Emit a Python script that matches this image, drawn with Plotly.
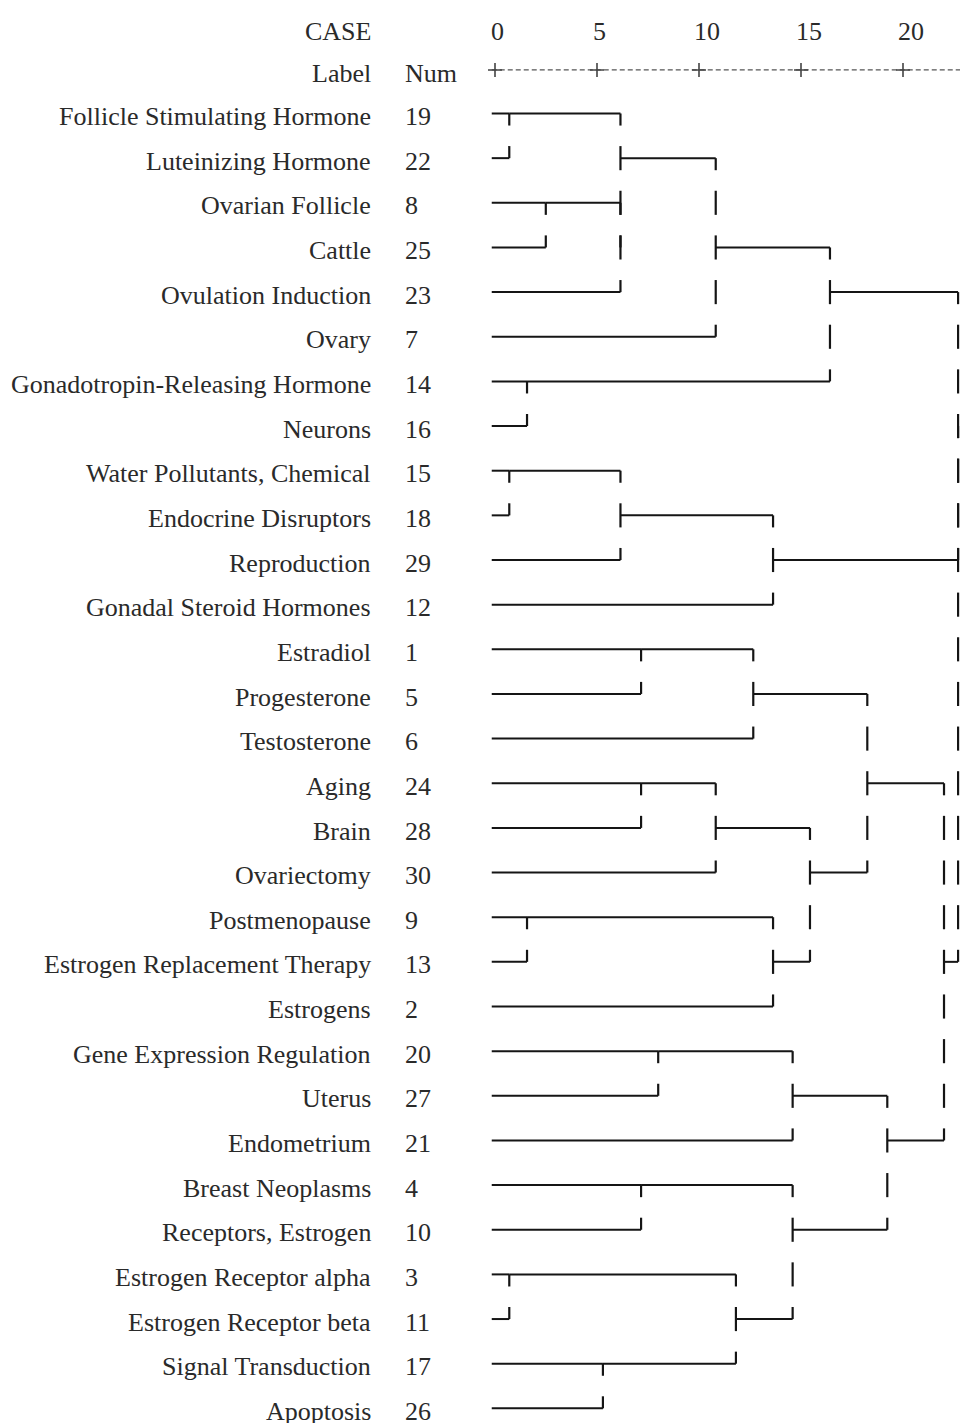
import plotly.graph_objects as go

# ---------------- data ----------------
labels = [
    "Follicle Stimulating Hormone", "Luteinizing Hormone", "Ovarian Follicle", "Cattle",
    "Ovulation Induction", "Ovary", "Gonadotropin-Releasing Hormone", "Neurons",
    "Water Pollutants, Chemical", "Endocrine Disruptors", "Reproduction",
    "Gonadal Steroid Hormones", "Estradiol", "Progesterone", "Testosterone", "Aging",
    "Brain", "Ovariectomy", "Postmenopause", "Estrogen Replacement Therapy", "Estrogens",
    "Gene Expression Regulation", "Uterus", "Endometrium", "Breast Neoplasms",
    "Receptors, Estrogen", "Estrogen Receptor alpha", "Estrogen Receptor beta",
    "Signal Transduction", "Apoptosis",
]
case_nums = [19, 22, 8, 25, 23, 7, 14, 16, 15, 18, 29, 12, 1, 5, 6, 24, 28, 30, 9, 13,
             2, 20, 27, 21, 4, 10, 3, 11, 17, 26]

# agglomeration schedule: (cluster 1, cluster 2, rescaled distance)
stage_a = [19, 15, 3, 14, 9, 8, 17, 8, 8, 15, 1, 24, 4, 20, 7, 24, 3, 1, 12, 2, 20, 3, 2, 7, 1, 3, 1, 7, 1]
stage_b = [22, 18, 11, 16, 13, 25, 26, 23, 19, 29, 5, 28, 10, 27, 8, 30, 17, 6, 15, 9, 21, 4, 24, 14, 2, 20, 3, 12, 7]
stage_dist = [0.70, 0.70, 0.70, 1.57, 1.57, 2.49, 5.29, 6.15, 6.15, 6.15, 7.16, 7.16, 7.16, 8.00,
              10.82, 10.82, 11.81, 12.66, 13.63, 13.63, 14.59, 14.59, 15.44, 16.42, 18.25,
              19.23, 22.01, 22.70, 22.70]

axis_ticks = [0, 5, 10, 15, 20]

# ---------------- geometry from data ----------------
LEAF_START = -0.16
TICK = 0.27

state = {c: (i, LEAF_START) for i, c in enumerate(case_nums)}
hx, hy, vx, vy = [], [], [], []
for a, b, h in zip(stage_a, stage_b, stage_dist):
    ra, ha = state[a]
    rb, hb = state[b]
    for r, h0 in ((ra, ha), (rb, hb)):
        hx += [h0, h, None]
        hy += [r, r, None]
    top, bot = min(ra, rb), max(ra, rb)
    for k in range(top, bot + 1):
        vx += [h, h, None]
        vy += [max(top, k - TICK), min(bot, k + TICK), None]
    new_id = min(a, b)
    del state[max(a, b)]
    state[new_id] = ((top + bot) // 2, h)

LINE = "#151515"
TEXT = "#2a2a2a"
FONT = "Liberation Serif, Times New Roman, serif"

fig = go.Figure()
fig.add_trace(go.Scatter(x=hx, y=hy, mode="lines", line=dict(color=LINE, width=2),
                         hoverinfo="skip", showlegend=False))
fig.add_trace(go.Scatter(x=vx, y=vy, mode="lines", line=dict(color=LINE, width=2.2),
                         hoverinfo="skip", showlegend=False))

# axis ruler "+----+----"
AX_ROW = -0.975
fig.add_trace(go.Scatter(x=[LEAF_START, 23.5], y=[AX_ROW, AX_ROW], mode="lines",
                         line=dict(color="#555555", width=1.2, dash="5px,3px"),
                         hoverinfo="skip", showlegend=False))
fig.add_trace(go.Scatter(x=axis_ticks, y=[AX_ROW] * len(axis_ticks), mode="markers",
                         marker=dict(symbol="cross-thin", size=10,
                                     line=dict(color="#444444", width=1.6)),
                         hoverinfo="skip", showlegend=False))

LABEL_X = -5.98
NUM_X = -4.51
TXT_DY = 0.07
ann = []
for i, (lab, num) in enumerate(zip(labels, case_nums)):
    ann.append(dict(x=LABEL_X, y=i + TXT_DY, text=lab, xanchor="right", yanchor="middle",
                    showarrow=False, font=dict(family=FONT, size=26, color=TEXT)))
    ann.append(dict(x=NUM_X, y=i + TXT_DY, text=str(num), xanchor="left", yanchor="middle",
                    showarrow=False, font=dict(family=FONT, size=26, color=TEXT)))

HDR1 = -1.915
HDR2 = -0.975
ann.append(dict(x=LABEL_X, y=HDR1 + TXT_DY, text="CASE", xanchor="right", yanchor="middle",
                showarrow=False, font=dict(family=FONT, size=26, color=TEXT)))
ann.append(dict(x=LABEL_X, y=HDR2 + TXT_DY, text="Label", xanchor="right", yanchor="middle",
                showarrow=False, font=dict(family=FONT, size=26, color=TEXT)))
ann.append(dict(x=NUM_X, y=HDR2 + TXT_DY, text="Num", xanchor="left", yanchor="middle",
                showarrow=False, font=dict(family=FONT, size=26, color=TEXT)))
for t in axis_ticks:
    s = str(t)
    ann.append(dict(x=t, y=HDR1 + TXT_DY, text=s, xanchor="center", yanchor="middle",
                    xshift=2 if len(s) == 1 else 8, showarrow=False,
                    font=dict(family=FONT, size=26, color=TEXT)))

fig.update_layout(
    width=960, height=1423, autosize=False,
    margin=dict(l=0, r=0, t=0, b=0, pad=0),
    paper_bgcolor="white", plot_bgcolor="white",
    xaxis=dict(range=[-24.265, 22.794], visible=False, fixedrange=True),
    yaxis=dict(range=[29.328, -2.542], visible=False, fixedrange=True),
    annotations=ann,
    showlegend=False,
)

fig.write_html("out.html")
